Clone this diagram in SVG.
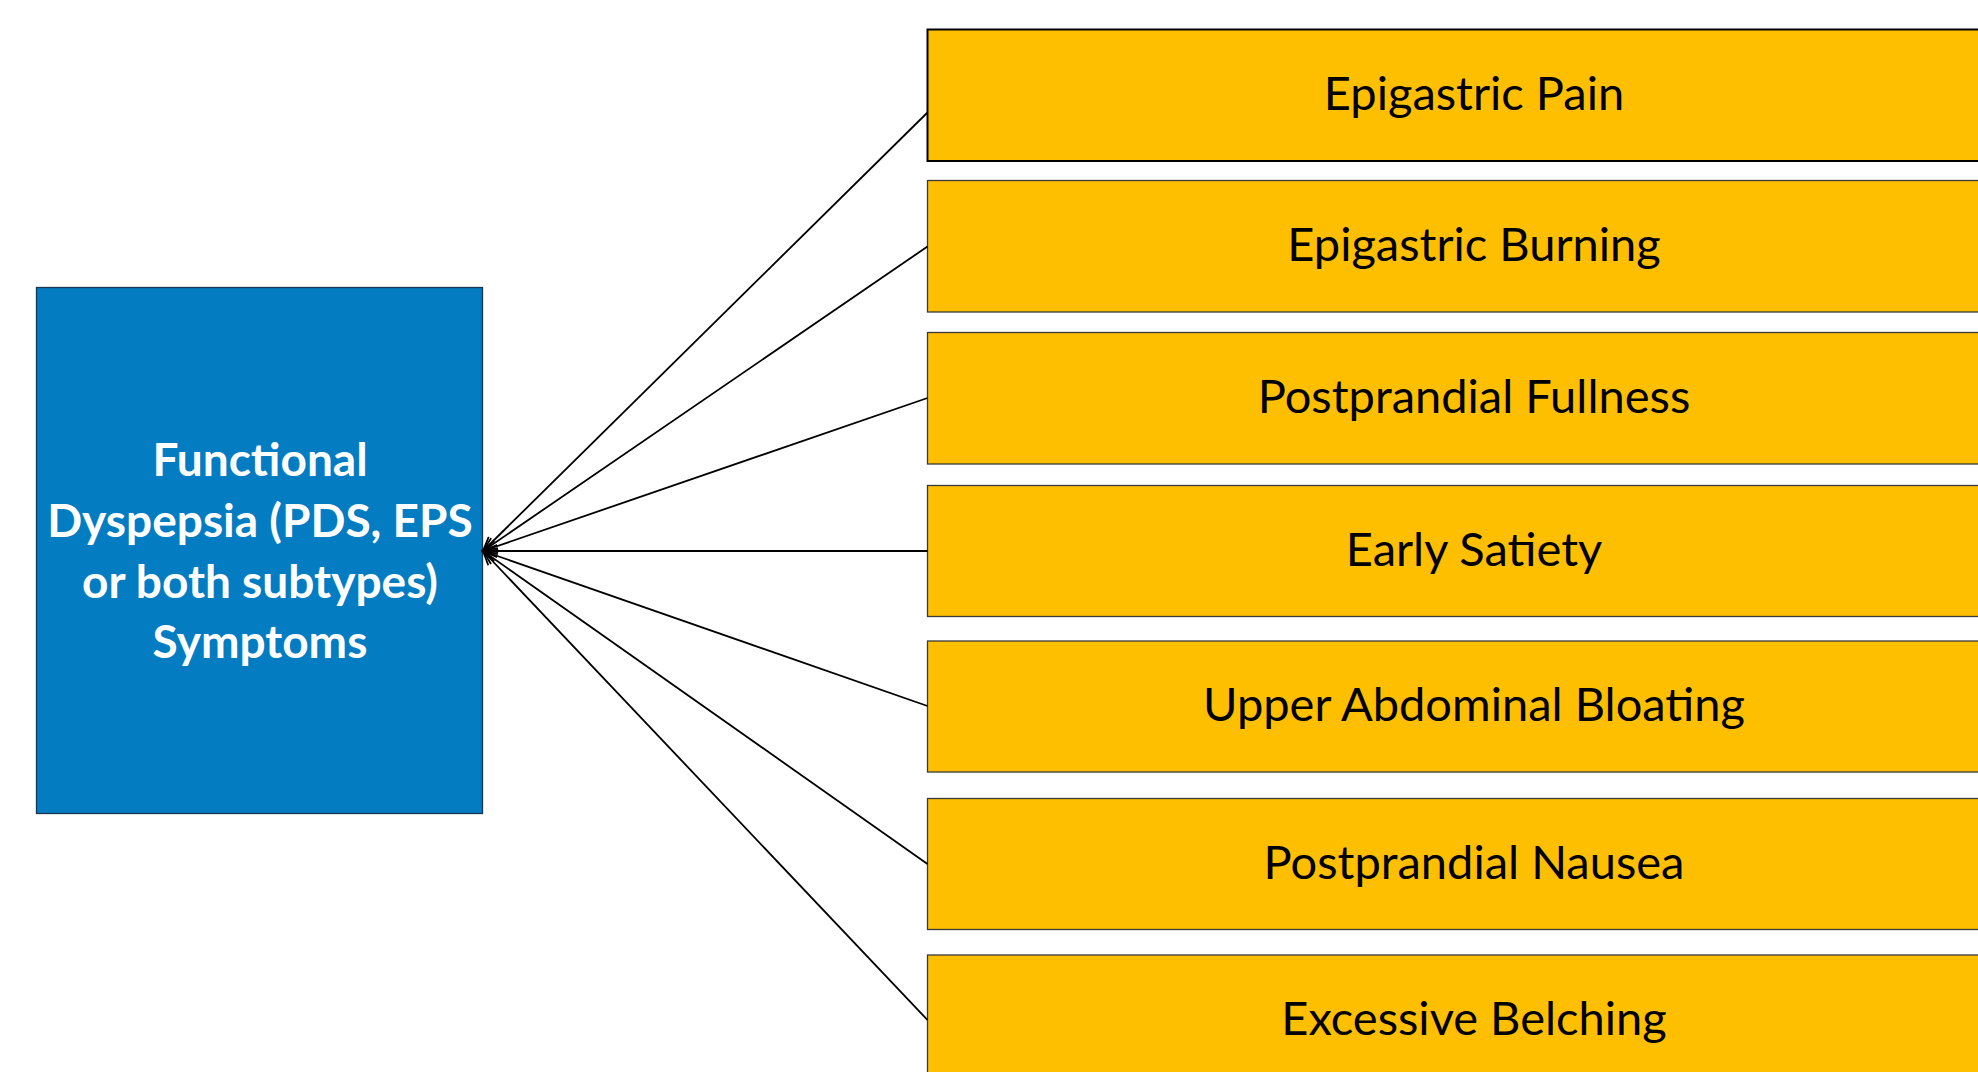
<svg xmlns="http://www.w3.org/2000/svg" width="1978" height="1072" viewBox="0 0 1978 1072">
<style>
.sym{fill:#FEBF00;stroke:#3a3a3a;stroke-width:1.3}
.main{fill:#037CC2;stroke:#1a3550;stroke-width:1.3}
.lbl{font-family:Lato,"Liberation Sans",sans-serif;font-size:47px;fill:#000;text-anchor:middle}
.mlbl{font-family:Lato,"Liberation Sans",sans-serif;font-size:46px;font-weight:bold;fill:#fff;text-anchor:middle}
.con{stroke:#000;stroke-width:1.8;fill:none;marker-end:url(#arr)}
</style>
<defs>
<marker id="arr" markerUnits="userSpaceOnUse" markerWidth="18" markerHeight="14" refX="15" refY="7" orient="auto">
<path d="M1,1 L15,7 L1,13" fill="none" stroke="#000" stroke-width="1.8"/>
</marker>
</defs>
<rect width="1978" height="1072" fill="#fff"/>
<g id="main">
<rect class="main" x="36.5" y="287.5" width="446" height="526"/>
<text class="mlbl" x="260" y="476">Functional</text>
<text class="mlbl" x="260" y="537">Dyspepsia (PDS, EPS</text>
<text class="mlbl" x="260" y="598">or both subtypes)</text>
<text class="mlbl" x="260" y="658">Symptoms</text>
</g>
<g id="n1"><rect class="sym" x="927.5" y="29.5" width="1100" height="131.5" style="stroke:#000;stroke-width:2"/><text class="lbl" x="1474" y="110">Epigastric Pain</text></g>
<g id="n2"><rect class="sym" x="927.5" y="180.5" width="1100" height="131.5"/><text class="lbl" x="1474" y="261">Epigastric Burning</text></g>
<g id="n3"><rect class="sym" x="927.5" y="332.5" width="1100" height="131.5"/><text class="lbl" x="1474" y="413">Postprandial Fullness</text></g>
<g id="n4"><rect class="sym" x="927.5" y="485.5" width="1100" height="131"/><text class="lbl" x="1474" y="566">Early Satiety</text></g>
<g id="n5"><rect class="sym" x="927.5" y="641" width="1100" height="131"/><text class="lbl" x="1474" y="721">Upper Abdominal Bloating</text></g>
<g id="n6"><rect class="sym" x="927.5" y="798.5" width="1100" height="131"/><text class="lbl" x="1474" y="879">Postprandial Nausea</text></g>
<g id="n7"><rect class="sym" x="927.5" y="955" width="1100" height="131"/><text class="lbl" x="1474" y="1035">Excessive Belching</text></g>
<g id="connectors">
<line class="con" x1="927.5" y1="112.5" x2="483" y2="551"/>
<line class="con" x1="927.5" y1="246.5" x2="483" y2="551"/>
<line class="con" x1="927.5" y1="398" x2="483" y2="551"/>
<line class="con" x1="927.5" y1="551" x2="483" y2="551"/>
<line class="con" x1="927.5" y1="706" x2="483" y2="551"/>
<line class="con" x1="927.5" y1="864" x2="483" y2="551"/>
<line class="con" x1="927.5" y1="1020" x2="483" y2="551"/>
</g>
</svg>
